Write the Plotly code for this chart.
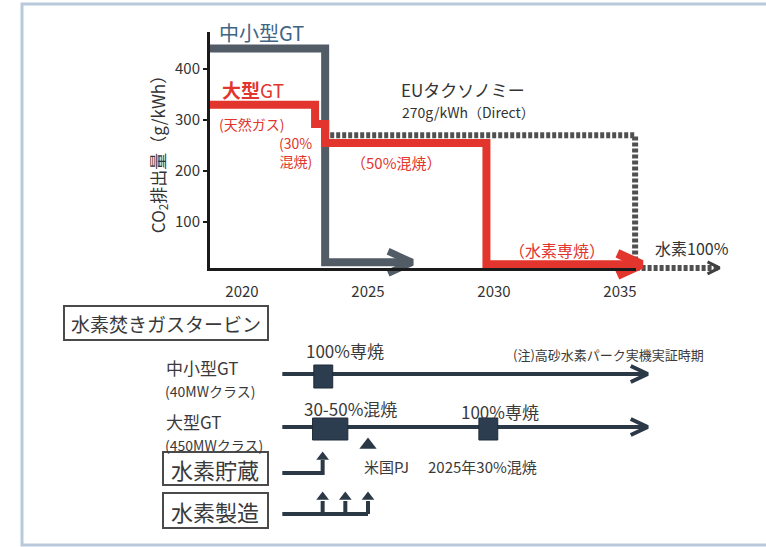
import plotly.graph_objects as go

W, H = 766, 547

# ---------------- data ----------------
year_ticks = [2020, 2025, 2030, 2035]
co2_ticks = [100, 200, 300, 400]

# CO2 emission pathways (year, g/kWh)
small_gt_years = [2018.7, 2023.3, 2023.3, 2026.75]
small_gt_co2 = [440, 440, 21, 21]

large_gt_years = [2018.7, 2022.9, 2022.9, 2023.3, 2023.3, 2029.7, 2029.7, 2035.85]
large_gt_co2 = [330, 330, 292, 292, 255, 255, 17, 17]

eu_taxonomy_co2 = 270
eu_years = [2023.5, 2035.6, 2035.6, 2038.95]
eu_co2 = [eu_taxonomy_co2, eu_taxonomy_co2, 10, 10]

# hydrogen gas turbine roadmap
roadmap_start, roadmap_end = 2021.6, 2036.1
small_gt_h2_window = (2022.85, 2023.6)      # 100% firing demo
large_gt_cofire_window = (2022.8, 2024.2)   # 30-50% co-firing
large_gt_h2_window = (2029.4, 2030.15)      # 100% firing
us_project_year = 2025.0
storage_years = [2023.2]
production_years = [2023.2, 2024.1, 2025.0]

# ---------------- scales ----------------
PX_2020, PX_PER_YEAR = 242, 25.2
PX_CO2_0, PX_PER_CO2 = 273, 0.51


def year_at(px):
    return 2020 + (px - PX_2020) / PX_PER_YEAR


def co2_at(py):
    return (PX_CO2_0 - py) / PX_PER_CO2


def chevron(x_tip, y_tip, back_px, half_px, yunit=1.0):
    dx = back_px / PX_PER_YEAR
    dy = half_px * yunit
    return [x_tip - dx, x_tip, x_tip - dx], [y_tip + dy, y_tip, y_tip - dy]


FONT = "Noto Sans CJK JP"
RED = "#e2352d"
GRAY = "#515c66"
NAVY = "#2b3947"
TXT = "#3a3a3a"
CO2U = 1 / PX_PER_CO2

fig = go.Figure()

# EU taxonomy threshold (hatched band)
fig.add_trace(go.Scatter(x=eu_years, y=eu_co2, mode="lines",
                         line=dict(color="#505050", width=6, dash="4px,2px"),
                         hoverinfo="skip", showlegend=False))
cx, cy = chevron(eu_years[-1], eu_co2[-1], 12, 6, CO2U)
fig.add_trace(go.Scatter(x=cx, y=cy, mode="lines", line=dict(color="#404040", width=3),
                         hoverinfo="skip", showlegend=False))

# small / medium GT
fig.add_trace(go.Scatter(x=small_gt_years, y=small_gt_co2, mode="lines",
                         line=dict(color=GRAY, width=8), hoverinfo="skip", showlegend=False))
cx, cy = chevron(small_gt_years[-1], small_gt_co2[-1], 24, 11, CO2U)
fig.add_trace(go.Scatter(x=cx, y=cy, mode="lines", line=dict(color=GRAY, width=7),
                         hoverinfo="skip", showlegend=False))

# large GT
fig.add_trace(go.Scatter(x=large_gt_years, y=large_gt_co2, mode="lines",
                         line=dict(color=RED, width=8), hoverinfo="skip", showlegend=False))
cx, cy = chevron(large_gt_years[-1], large_gt_co2[-1], 24, 11, CO2U)
fig.add_trace(go.Scatter(x=cx, y=cy, mode="lines", line=dict(color=RED, width=9),
                         hoverinfo="skip", showlegend=False))

# ---------------- roadmap (rows in y2 pixel units) ----------------
ROW_SMALL, ROW_LARGE, ROW_STORE, ROW_MAKE = 374, 427, 473, 514
for row in (ROW_SMALL, ROW_LARGE):
    fig.add_trace(go.Scatter(x=[roadmap_start, roadmap_end - 0.1], y=[row, row], yaxis="y2",
                             mode="lines", line=dict(color=NAVY, width=4),
                             hoverinfo="skip", showlegend=False))
    cx, cy = chevron(roadmap_end, row, 17, 8)
    fig.add_trace(go.Scatter(x=cx, y=cy, yaxis="y2", mode="lines",
                             line=dict(color=NAVY, width=4), hoverinfo="skip", showlegend=False))

# storage: line turning upward
fig.add_trace(go.Scatter(x=[roadmap_start, storage_years[0], storage_years[0]],
                         y=[ROW_STORE, ROW_STORE, 460], yaxis="y2", mode="lines",
                         line=dict(color=NAVY, width=4), hoverinfo="skip", showlegend=False))
# production: line with upward branches
fig.add_trace(go.Scatter(x=[roadmap_start, production_years[-1]], y=[ROW_MAKE, ROW_MAKE],
                         yaxis="y2", mode="lines", line=dict(color=NAVY, width=4),
                         hoverinfo="skip", showlegend=False))
for yr in production_years:
    fig.add_trace(go.Scatter(x=[yr, yr], y=[ROW_MAKE, 501], yaxis="y2", mode="lines",
                             line=dict(color=NAVY, width=4), hoverinfo="skip", showlegend=False))
heads_x = storage_years + production_years
heads_y = [457] + [497] * len(production_years)
fig.add_trace(go.Scatter(x=heads_x, y=heads_y, yaxis="y2", mode="markers",
                         marker=dict(symbol="triangle-up", size=11, color=NAVY),
                         hoverinfo="skip", showlegend=False))
# US project marker
fig.add_trace(go.Scatter(x=[us_project_year], y=[445], yaxis="y2", mode="markers",
                         marker=dict(symbol="triangle-up", size=15, color=NAVY),
                         hoverinfo="skip", showlegend=False))

# visible axes carrier
fig.add_trace(go.Scatter(x=[None], y=[None], xaxis="x3", yaxis="y3", showlegend=False,
                         hoverinfo="skip"))

shapes = []
for (x0, x1), (y0, y1) in [(small_gt_h2_window, (365, 388)),
                           (large_gt_cofire_window, (418, 440)),
                           (large_gt_h2_window, (418, 440))]:
    shapes.append(dict(type="rect", xref="x", yref="y2", x0=x0, x1=x1, y0=y0, y1=y1,
                       fillcolor="#2c3d4f", line=dict(color="#1f2b38", width=1)))


def pbox(x0, y0, x1, y1):
    return dict(type="rect", xref="paper", yref="paper", x0=x0 / W, x1=x1 / W,
                y0=1 - y1 / H, y1=1 - y0 / H, line=dict(color="#4a4a4a", width=2),
                fillcolor="rgba(0,0,0,0)")


shapes += [pbox(64, 306, 268, 340), pbox(163, 452, 268, 485), pbox(163, 493, 268, 528)]
# outer frame
shapes.append(dict(type="rect", xref="paper", yref="paper", x0=22 / W, x1=1.02,
                   y0=1 - 545 / H, y1=1 - 4 / H, line=dict(color="#b9c9dc", width=3)))

annotations = []


def label(text, px, py, size, color=TXT, anchor="center", align="center"):
    annotations.append(dict(text=text, x=px / W, y=1 - py / H, xref="paper", yref="paper",
                            xanchor=anchor, yanchor="middle", showarrow=False, align=align,
                            font=dict(family=FONT, size=size, color=color)))


label("中小型GT", 217, 33, 20, "#3e6585", "left")
label("<b>大型</b>GT", 220, 90, 19, RED, "left")
label("(天然ガス)", 217, 124, 14, RED, "left")
label("(30%<br>混焼)", 314, 152, 14, RED, "right", "right")
label("（50%混焼）", 396, 162, 15, RED)
label("EUタクソノミー", 463, 90, 17, "#333333")
label("270g/kWh（Direct）", 468, 112, 14, "#333333")
label("（水素専焼）", 557, 250, 16, RED)
label("水素100%", 692, 248, 16, "#333333")

label("水素焚きガスタービン", 166, 323, 19)
label("100%専焼", 345, 350, 17)
label("中小型GT", 164, 367, 17, anchor="left")
label("(40MWクラス)", 163, 391, 14, anchor="left")
label("(注)高砂水素パーク実機実証時期", 608, 354, 13)
label("30-50%混焼", 350, 408, 17)
label("大型GT", 164, 421, 17, anchor="left")
label("(450MWクラス)", 163, 445, 14, anchor="left")
label("100%専焼", 500, 411, 17)
label("米国PJ", 386, 466, 15)
label("2025年30%混焼", 482, 466, 15)
label("水素貯蔵", 215, 469, 22)
label("水素製造", 215, 511, 22)

fig.update_layout(
    width=W, height=H, margin=dict(l=0, r=0, t=0, b=0),
    paper_bgcolor="white", plot_bgcolor="rgba(0,0,0,0)",
    showlegend=False, font=dict(family=FONT, color=TXT),
    xaxis=dict(domain=[0, 1], range=[year_at(0), year_at(W)], visible=False),
    yaxis=dict(domain=[0, 1], range=[co2_at(H), co2_at(0)], visible=False),
    yaxis2=dict(domain=[0, 1], range=[H, 0], overlaying="y", anchor="x", visible=False),
    xaxis3=dict(domain=[210 / W, 636 / W], range=[year_at(210), year_at(636)], anchor="y3",
                showline=True, linecolor="#1a1a1a", linewidth=3, showgrid=False,
                zeroline=False, tickvals=year_ticks, ticks="outside", ticklen=8,
                tickcolor="rgba(0,0,0,0)", tickfont=dict(family=FONT, size=15, color="#333")),
    yaxis3=dict(domain=[1 - 268 / H, 1 - 32 / H], range=[co2_at(268), co2_at(32)],
                anchor="x3", showline=True, linecolor="#1a1a1a", linewidth=3,
                showgrid=False, zeroline=False, tickvals=co2_ticks, ticks="outside",
                ticklen=4, tickwidth=2, tickcolor="#1a1a1a",
                tickfont=dict(family=FONT, size=15, color="#333"),
                title=dict(text="CO<sub>2</sub>排出量（g/kWh）", standoff=6,
                           font=dict(family=FONT, size=17, color="#333"))),
    shapes=shapes, annotations=annotations,
)

fig.write_html("out.html")
